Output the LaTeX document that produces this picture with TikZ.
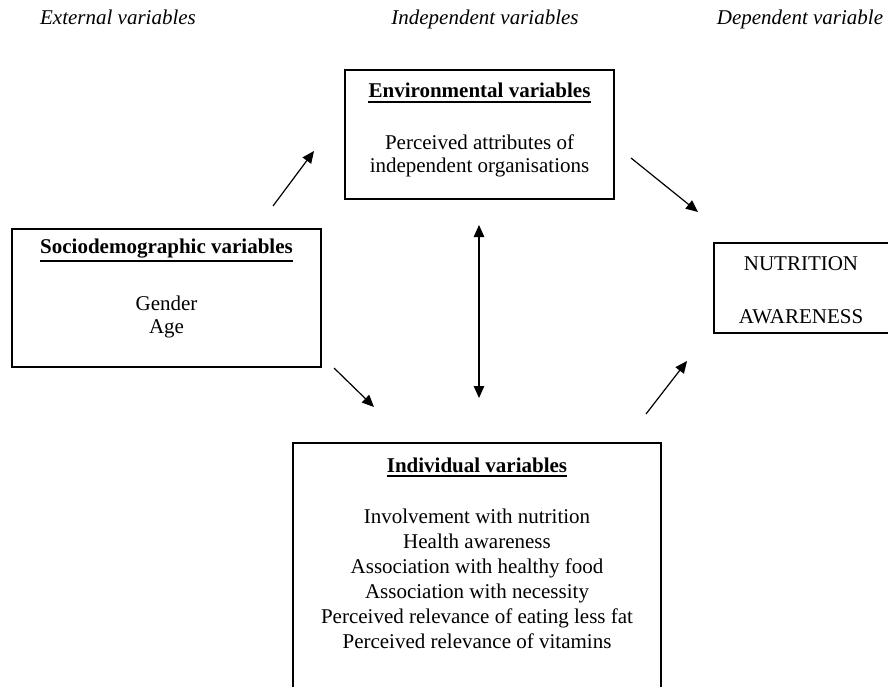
\documentclass[tikz,border=0pt]{standalone}
\usepackage{fontspec}
\setmainfont{Liberation Serif}
\usetikzlibrary{arrows.meta}
\begin{document}
\begin{tikzpicture}[x=1pt,y=-1pt,
  box/.style={draw, line width=1.2pt, inner sep=0pt},
  txt/.style={font=\fontsize{21}{23}\selectfont, anchor=base, inner sep=0pt},
  hdr/.style={font=\fontsize{21}{23}\selectfont\itshape, anchor=base, inner sep=0pt},
  uline/.style={line width=1.7pt},
  arr/.style={line width=1.2pt, -{Triangle[length=12pt,width=10.5pt]}},
  darr/.style={line width=1.2pt, {Triangle[length=12pt,width=10.5pt]}-{Triangle[length=12pt,width=10.5pt]}}]
\useasboundingbox (0,0) rectangle (888,687);
\clip (0,0) rectangle (888,687);

% headers
\node[hdr] (hext) at (118,25) {External variables};
\node[hdr] (hind) at (485,25) {Independent variables};
\node[hdr] (hdep) at (800,25) {Dependent variable};

% boxes
\node[box, minimum width=269pt, minimum height=129pt] (env) at (479.5,134.5) {};
\node[box, minimum width=309pt, minimum height=138pt] (soc) at (166.5,298) {};
\node[box, minimum width=176pt, minimum height=90pt] (nut) at (802,288) {};
\node[box, minimum width=368pt, minimum height=257pt] (ind) at (477,571.5) {};

% environmental
\node[txt] (envt) at (479.5,98) {\textbf{Environmental variables}};
\draw[uline] ([yshift=-4pt]envt.base west) -- ([yshift=-4pt]envt.base east);
\node[txt] (env1) at (479.5,150) {Perceived attributes of};
\node[txt] (env2) at (479.5,173) {independent organisations};

% sociodemographic
\node[txt] (soct) at (166.5,253) {\textbf{Sociodemographic variables}};
\draw[uline] ([yshift=-8pt]soct.base west) -- ([yshift=-8pt]soct.base east);
\node[txt] (soc1) at (166.5,310) {Gender};
\node[txt] (soc2) at (166.5,333) {Age};

% nutrition awareness
\node[txt] (nut1) at (801,270) {NUTRITION};
\node[txt] (nut2) at (801,323) {AWARENESS};

% individual
\node[txt] (indt) at (477,472) {\textbf{Individual variables}};
\draw[uline] ([yshift=-4pt]indt.base west) -- ([yshift=-4pt]indt.base east);
\node[txt] (ind1) at (477,523) {Involvement with nutrition};
\node[txt] (ind2) at (477,548) {Health awareness};
\node[txt] (ind3) at (477,573) {Association with healthy food};
\node[txt] (ind4) at (477,598) {Association with necessity};
\node[txt] (ind5) at (477,623) {Perceived relevance of eating less fat};
\node[txt] (ind6) at (477,648) {Perceived relevance of vitamins};

% arrow end points
\coordinate (a1s) at (273,206); \coordinate (a1e) at (314,151);
\coordinate (a2s) at (631,158); \coordinate (a2e) at (698,212);
\coordinate (a3s) at (479,398); \coordinate (a3e) at (479,225);
\coordinate (a4s) at (334,368); \coordinate (a4e) at (374,407);
\coordinate (a5s) at (646,414); \coordinate (a5e) at (687,361);

\draw[arr] (a1s) -- (a1e);
\draw[arr] (a2s) -- (a2e);
\draw[darr] (a3s) -- (a3e);
\draw[arr] (a4s) -- (a4e);
\draw[arr] (a5s) -- (a5e);
\end{tikzpicture}
\end{document}
